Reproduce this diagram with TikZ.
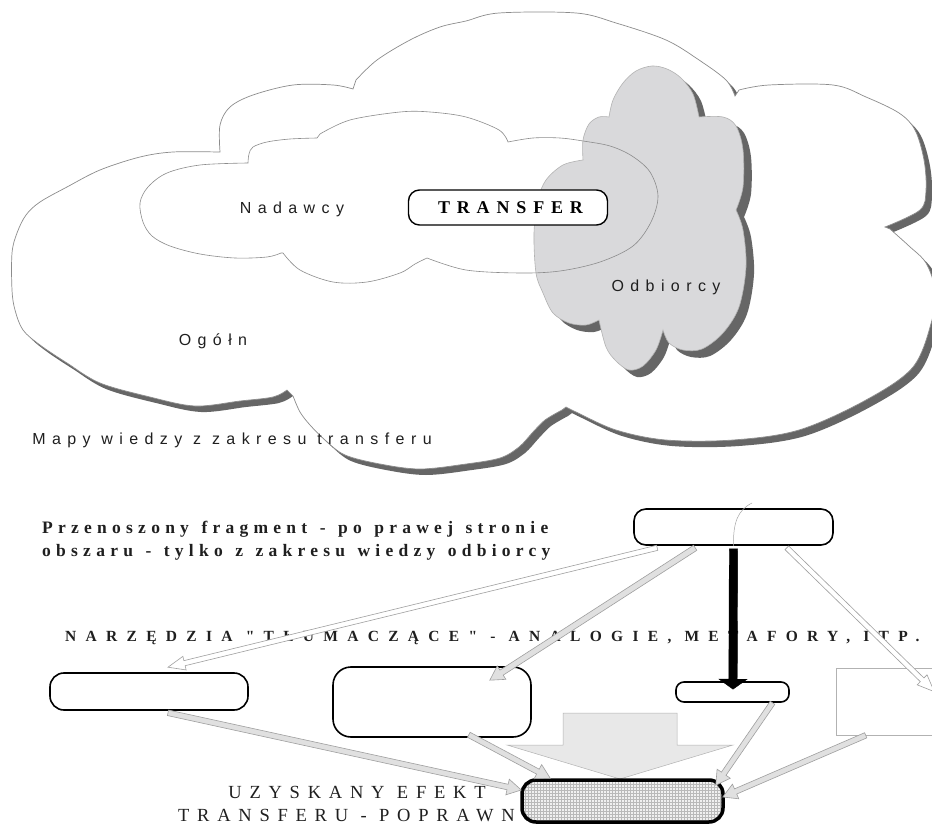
\documentclass[tikz,border=0pt]{standalone}
\usepackage{fontspec}
\usetikzlibrary{calc,patterns}
\newfontfamily\lblsans[LetterSpace=40]{Liberation Sans}
\newfontfamily\movedfont[LetterSpace=30,WordSpace=1.3]{Liberation Serif}
\newfontfamily\toolfont[LetterSpace=60,WordSpace=1.0]{Liberation Serif}
\newfontfamily\effectfont[LetterSpace=42]{Liberation Serif}
\newfontfamily\ttlserif[LetterSpace=38]{Liberation Serif}
\definecolor{cloudline}{gray}{0.55}
\definecolor{cloudshadow}{gray}{0.40}
\definecolor{recvfill}{RGB}{217,217,219}
\definecolor{arrowfill}{gray}{0.88}
\definecolor{inktext}{gray}{0.12}

% block arrow: style, from, to, shaft half width, head half width, head length
\newcommand\blkarrow[6]{%
  \coordinate (bah) at ($(#3)!#6!(#2)$);
  \path[#1] ($(#2)!#4!90:(#3)$) -- ($(bah)!#4!90:(#3)$) -- ($(bah)!#5!90:(#3)$)
    -- (#3) -- ($(bah)!#5!-90:(#3)$) -- ($(bah)!#4!-90:(#3)$)
    -- ($(#2)!#4!-90:(#3)$) -- cycle;
}

% outline of the general knowledge map
\def\cloudouter{
  plot[smooth,tension=0.55] coordinates {(220,152) (220,125) (230,107) (253,95) (293,85) (333,85) (353,89)}
  -- plot[smooth,tension=0.55] coordinates {(356,80) (377,60) (410,40) (440,27) (466,21) (499,13) (576,13) (616,23) (666,40) (699,60) (726,80) (735,96)}
  -- plot[smooth,tension=0.55] coordinates {(739,90) (769,85) (833,85) (866,97) (899,113) (915,130) (924,160) (926,190) (920,210) (885,227)}
  -- plot[smooth,tension=0.55] coordinates {(890,229) (909,246) (926,263) (935,290) (932,320) (913,367) (866,400) (799,430) (733,440) (666,440) (616,430) (576,412) (566,407)}
  -- plot[smooth,tension=0.55] coordinates {(562,410) (545,420) (533,432) (519,447) (500,458) (466,464) (420,469) (380,464) (345,455) (325,440) (310,425) (300,412) (293,396)}
  -- plot[smooth,tension=0.55] coordinates {(287,390) (273,397) (240,401) (195,406) (150,397) (100,383) (67,363) (40,345) (23,330) (15,310) (12,290) (12,253) (17,233) (26,215) (40,202) (67,187) (100,170) (140,157) (173,152) (218,152)}
  -- cycle}

% outline of the receivers' area
\def\cloudrecv{
  plot[smooth,tension=0.55] coordinates {(609,117) (613,100) (623,83) (636,71) (652,66) (667,69) (681,78) (693,94) (699,117)}
  -- plot[smooth,tension=0.55] coordinates {(699,117) (723,117) (736,126) (743,150) (743,187) (736,210)}
  -- plot[smooth,tension=0.55] coordinates {(736,210) (743,230) (746,267) (739,307) (723,333) (702,349) (683,350) (669,343) (663,330)}
  -- plot[smooth,tension=0.55] coordinates {(663,330) (656,350) (643,366) (629,370) (616,361) (606,347) (599,320)}
  -- plot[smooth,tension=0.55] coordinates {(599,320) (586,325) (569,323) (553,313) (543,293) (536,273) (534,233) (538,200) (546,180) (563,165) (583,160)}
  -- plot[smooth,tension=0.55] coordinates {(583,160) (583,140) (589,124) (599,117) (609,117)}
  -- cycle}

% outline of the senders' area
\def\cloudsend{
  plot[smooth,tension=0.55] coordinates {(248,163) (200,165) (167,173) (148,187) (140,203) (143,222) (152,236) (170,246) (200,254) (235,258) (267,257) (281,253)}
  -- plot[smooth,tension=0.55] coordinates {(283,253) (300,270) (333,282) (367,282) (400,273) (415,264) (427,258)}
  -- plot[smooth,tension=0.55] coordinates {(427,258) (466,270) (520,273) (560,271) (600,262) (633,246) (651,222) (658,196) (650,172) (632,156) (610,146) (583,141) (560,138) (533,138) (508,142)}
  -- plot[smooth,tension=0.55] coordinates {(508,142) (499,130) (466,117) (430,112) (400,112) (350,120) (320,134)}
  -- plot[smooth,tension=0.55] coordinates {(317,138) (290,139) (267,142) (253,147) (249,154) (248,163)}
  -- cycle}

\tikzset{
  lbl/.style={font=\lblsans\fontsize{16}{20}\selectfont, text=inktext, inner sep=0},
  sertxt/.style={text=inktext, inner sep=0},
  rbox/.style={draw=black, line width=1.6, fill=white, rounded corners=#1, inner sep=0},
  rbox/.default=12,
  hollowarrow/.style={draw=gray!75, fill=white, line width=0.6},
  greyarrow/.style={draw=gray!75, fill=arrowfill, line width=0.6},
  blackarrow/.style={draw=black, fill=black, line width=0.4}
}

\begin{document}
\begin{tikzpicture}[x=1pt,y=-1pt]
\useasboundingbox (0,0) rectangle (932,826);
\fill[white] (0,0) rectangle (932,826);

% ---- knowledge maps ----
\fill[cloudshadow, shift={(6,6)}] \cloudouter;
\path[draw=cloudline, fill=white, line width=0.7] \cloudouter;

\fill[cloudshadow, shift={(8,7)}] \cloudrecv;
\path[draw=gray!60, fill=recvfill, line width=0.6] \cloudrecv;

\path[draw=cloudline, line width=0.6] \cloudsend;

\node[rbox=11, line width=1.4, minimum width=199, minimum height=35] (transfer) at (508,207.5)
  {\ttlserif\bfseries\fontsize{18}{20}\selectfont\hspace{5pt}TRANSFER};

\node[lbl] (send) at (292,209) {Nadawcy};
\node[lbl] (gen) at (213,341) {Ogółn};
\node[lbl] (recv) at (666,287) {Odbiorcy};
\node[lbl] (maps) at (232,440) {Mapy wiedzy z zakresu transferu};

% ---- transfer scheme ----
\node[sertxt, anchor=west, align=left, font=\movedfont\bfseries\fontsize{17.5}{23}\selectfont] (moved) at (42,540.5)
  {Przenoszony fragment - po prawej stronie\\obszaru - tylko z zakresu wiedzy odbiorcy};
\node[sertxt, anchor=west, font=\toolfont\bfseries\fontsize{15.5}{18}\selectfont] (tools) at (65,637.5)
  {NARZĘDZIA "TŁUMACZĄCE" - ANALOGIE, METAFORY, ITP.};
\node[sertxt, align=center, font=\effectfont\fontsize{18.5}{23}\selectfont] (effect) at (357,804)
  {UZYSKANY EFEKT\\TRANSFERU - POPRAWNY};

\node[rbox=12, minimum width=199, minimum height=36] (src) at (733.5,527) {};
\node[rbox=14, minimum width=198, minimum height=37] (lbox) at (149,691.5) {};
\node[rbox=18, minimum width=198, minimum height=70] (mbox) at (432,702) {};
\node[rbox=8, minimum width=113, minimum height=20] (sbox) at (732.5,692) {};
\node[draw=gray!60, line width=0.6, fill=white, minimum width=114, minimum height=67, inner sep=0] (rect) at (893,701.5) {};

% thin stroke crossing the fragment box
\coordinate (stroke) at (752,503);
\draw[gray!70, line width=0.5] (stroke) .. controls (738,510) and (733,522) .. (src.south);

% broad arrow towards the effect
\path[draw=gray!60, fill=gray!18, line width=0.5]
  (563,713) -- (677,713) -- (677,745) -- (733,745) -- (620,779) -- (507,745) -- (563,745) -- cycle;

\node[draw=black, line width=3.5, rounded corners=14, minimum width=201, minimum height=42, inner sep=0,
      preaction={fill=gray!12}, pattern=grid, pattern color=gray!55] (res) at (622.5,801) {};

% connectors
\coordinate (a1s) at ($(src.south west)+(24,2)$);
\coordinate (a1e) at ($(lbox.north)+(19,-5)$);
\blkarrow{hollowarrow}{a1s}{a1e}{2.6pt}{7pt}{17pt}
\coordinate (a2s) at ($(src.south west)+(62,2)$);
\coordinate (a2e) at ($(mbox.north east)+(-42,14)$);
\blkarrow{greyarrow}{a2s}{a2e}{3pt}{8pt}{14pt}
\coordinate (a3s) at ($(src.south)+(0,3)$);
\coordinate (a3e) at ($(sbox.north)+(0.5,8)$);
\blkarrow{blackarrow}{a3s}{a3e}{4.2pt}{14pt}{10pt}
\coordinate (a4s) at ($(src.south east)+(-47,2)$);
\coordinate (a4e) at ($(rect.north east)+(-16,24)$);
\blkarrow{hollowarrow}{a4s}{a4e}{2.6pt}{7pt}{17pt}
\coordinate (a5s) at ($(lbox.south)+(19,2)$);
\coordinate (a5e) at ($(res.west)+(1,-11)$);
\blkarrow{greyarrow}{a5s}{a5e}{2.8pt}{8pt}{14pt}
\coordinate (a6s) at ($(mbox.south east)+(-63,-3)$);
\coordinate (a6e) at ($(res.north west)+(30,0)$);
\blkarrow{greyarrow}{a6s}{a6e}{2.8pt}{8pt}{14pt}
\coordinate (a7s) at ($(sbox.south)+(40,0)$);
\coordinate (a7e) at ($(res.north east)+(-9,7)$);
\blkarrow{greyarrow}{a7s}{a7e}{2.8pt}{8pt}{14pt}
\coordinate (a8s) at ($(rect.south west)+(30,0)$);
\coordinate (a8e) at ($(res.east)+(-2,-4)$);
\blkarrow{greyarrow}{a8s}{a8e}{2.8pt}{8pt}{14pt}
\end{tikzpicture}
\end{document}
